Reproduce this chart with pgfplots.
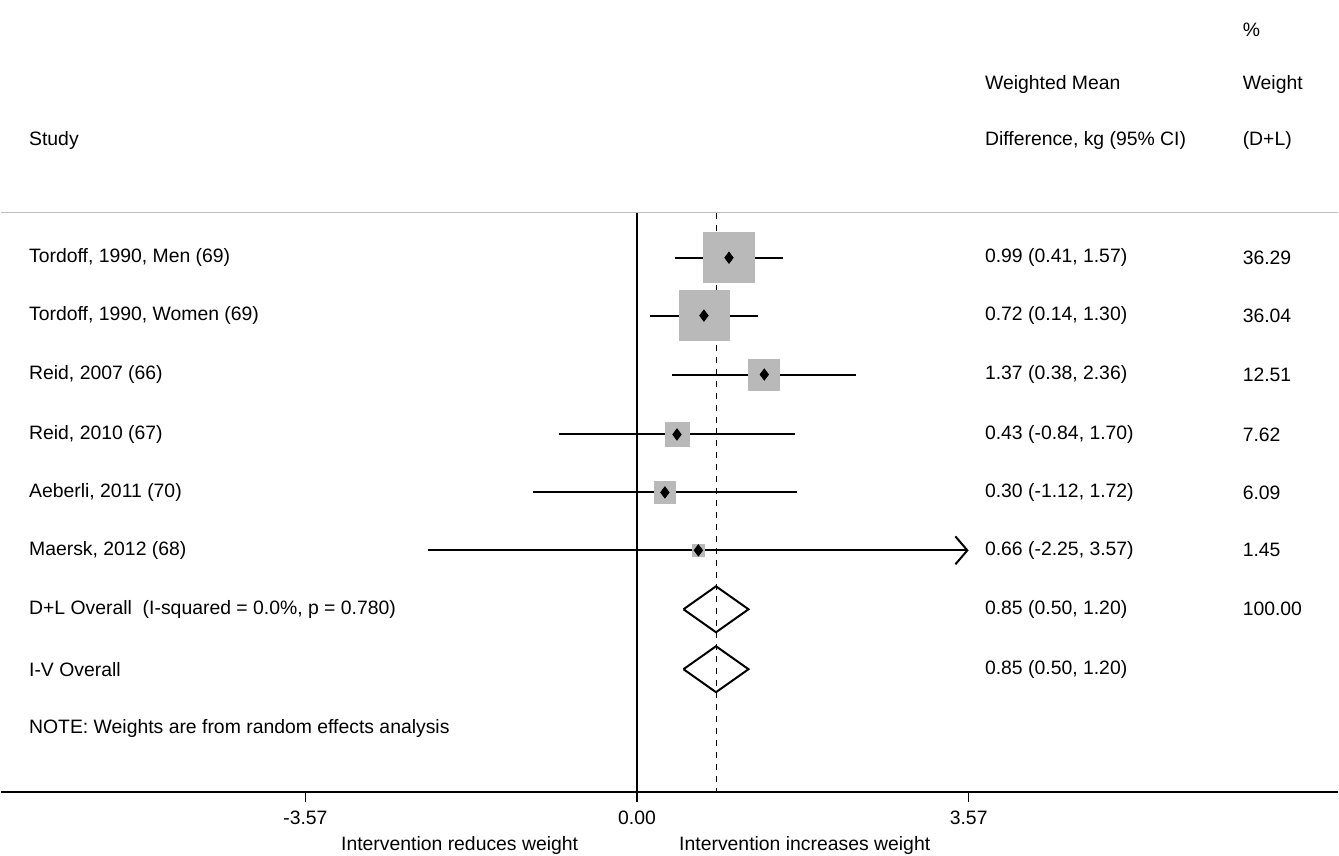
\documentclass[border=0pt]{standalone}
\usepackage{pgfplots}
\pgfplotsset{compat=1.18}
\usetikzlibrary{arrows.meta}
\usepackage{fontspec}
\setmainfont{Liberation Sans}
\tikzset{tx/.style={anchor=west,inner sep=0pt}, te/.style={anchor=east,inner sep=0pt}}
\begin{document}
\fontsize{9.7}{12}\selectfont
\begin{tikzpicture}
\path (0,-32pt) rectangle (669.5pt,396.5pt);
\begin{axis}[
  scale only axis, width=669.5pt, height=396.5pt,
  xmin=-6.849, xmax=7.548, ymin=0, ymax=793, y dir=reverse,
  axis x line=bottom, axis y line=none,
  axis line style={-, line width=0.8pt},
  xtick={-3.57,0,3.57}, xticklabels={-3.57,0.00,3.57},
  xtick style={black, line width=0.6pt}, tick align=outside, major tick length=5pt,
  xticklabel style={font=\fontsize{9.7}{12}\selectfont, yshift=-1pt},
  clip=false,
]
\draw[gray!50, line width=0.6pt] (axis cs:-6.849,213) -- (axis cs:7.548,213);
\addplot[black, line width=0.6pt] coordinates {(0,213) (0,793)};
\addplot[black, dashed, line width=0.5pt] coordinates {(0.85,213) (0.85,793)};
% boxes
\addplot[only marks, mark=square*, mark size=12.6pt, gray!55] coordinates {(0.99,258)};
\addplot[only marks, mark=square*, mark size=12.5pt, gray!55] coordinates {(0.72,316)};
\addplot[only marks, mark=square*, mark size=7.8pt, gray!55] coordinates {(1.37,375)};
\addplot[only marks, mark=square*, mark size=6pt, gray!55] coordinates {(0.43,435)};
\addplot[only marks, mark=square*, mark size=5.4pt, gray!55] coordinates {(0.30,493)};
\addplot[only marks, mark=square*, mark size=2.8pt, gray!55] coordinates {(0.66,551)};
% CIs
\addplot[black, line width=1pt] coordinates {(0.41,258) (1.57,258)};
\addplot[black, line width=1pt] coordinates {(0.14,316) (1.30,316)};
\addplot[black, line width=1pt] coordinates {(0.38,375) (2.36,375)};
\addplot[black, line width=1pt] coordinates {(-0.84,435) (1.70,435)};
\addplot[black, line width=1pt] coordinates {(-1.12,493) (1.72,493)};
\addplot[black, line width=1pt, -{Straight Barb[length=6pt,width=14pt]}] coordinates {(-2.25,551) (3.57,551)};
% points
\addplot[only marks, mark=diamond*, mark size=2.8pt, black] coordinates {(0.99,258) (0.72,316) (1.37,375) (0.43,435) (0.30,493) (0.66,551)};
% diamonds
\addplot[black, line width=1pt] coordinates {(0.50,610) (0.85,587) (1.20,610) (0.85,633) (0.50,610)};
\addplot[black, line width=1pt] coordinates {(0.50,670) (0.85,647) (1.20,670) (0.85,693) (0.50,670)};
% text
\def\cL{-6.548}\def\cM{3.742}\def\cR{6.516}
\node[tx] at (axis cs:\cR,30) {\%};
\node[tx] at (axis cs:\cM,85) {Weighted Mean};
\node[tx] at (axis cs:\cR,85) {Weight};
\node[tx] at (axis cs:\cL,141) {Study};
\node[tx] at (axis cs:\cM,141) {Difference, kg (95\% CI)};
\node[tx] at (axis cs:\cR,141) {(D+L)};
\node[tx] at (axis cs:\cL,258) {Tordoff, 1990, Men (69)};
\node[tx] at (axis cs:\cL,316) {Tordoff, 1990, Women (69)};
\node[tx] at (axis cs:\cL,375) {Reid, 2007 (66)};
\node[tx] at (axis cs:\cL,435) {Reid, 2010 (67)};
\node[tx] at (axis cs:\cL,493) {Aeberli, 2011 (70)};
\node[tx] at (axis cs:\cL,551) {Maersk, 2012 (68)};
\node[tx] at (axis cs:\cL,610) {D+L Overall\ \ (I-squared = 0.0\%, p = 0.780)};
\node[tx] at (axis cs:\cL,670) {I-V Overall};
\node[tx] at (axis cs:\cL,729) {NOTE: Weights are from random effects analysis};
\node[tx] at (axis cs:\cM,258) {0.99 (0.41, 1.57)};
\node[tx] at (axis cs:\cM,316) {0.72 (0.14, 1.30)};
\node[tx] at (axis cs:\cM,375) {1.37 (0.38, 2.36)};
\node[tx] at (axis cs:\cM,435) {0.43 (-0.84, 1.70)};
\node[tx] at (axis cs:\cM,493) {0.30 (-1.12, 1.72)};
\node[tx] at (axis cs:\cM,551) {0.66 (-2.25, 3.57)};
\node[tx] at (axis cs:\cM,610) {0.85 (0.50, 1.20)};
\node[tx] at (axis cs:\cM,670) {0.85 (0.50, 1.20)};
\node[tx] at (axis cs:\cR,258) {36.29};
\node[tx] at (axis cs:\cR,316) {36.04};
\node[tx] at (axis cs:\cR,375) {12.51};
\node[tx] at (axis cs:\cR,435) {7.62};
\node[tx] at (axis cs:\cR,493) {6.09};
\node[tx] at (axis cs:\cR,551) {1.45};
\node[tx] at (axis cs:\cR,610) {100.00};
\node[te] at (axis cs:-0.63,846) {Intervention reduces weight};
\node[tx] at (axis cs:0.45,846) {Intervention increases weight};
\end{axis}
\end{tikzpicture}
\end{document}
